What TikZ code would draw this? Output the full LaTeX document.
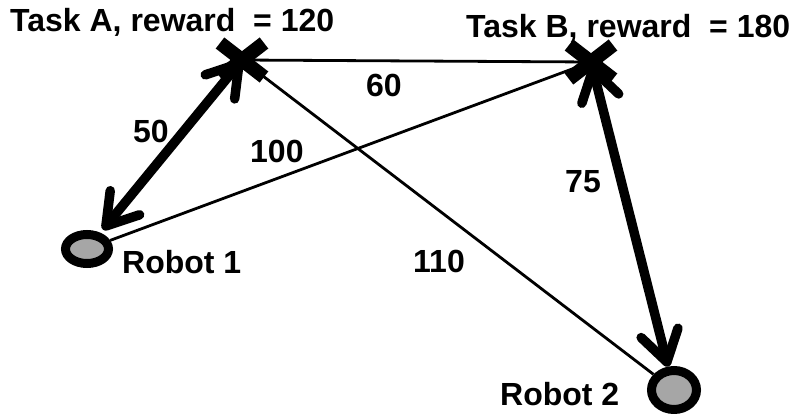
\documentclass[tikz,border=0pt]{standalone}
\usepackage{fontspec}
\setmainfont{Liberation Sans}
\usetikzlibrary{arrows.meta,shapes.geometric,calc}
\definecolor{robotgray}{RGB}{166,166,166}
\begin{document}
\begin{tikzpicture}[x=1pt,y=-1pt,
  lbl/.style={inner sep=0pt,anchor=base west,font=\fontsize{32}{38}\selectfont\bfseries},
  robot/.style={draw=black,fill=robotgray,ellipse,line width=9pt,inner sep=0pt},
  crossline/.style={line width=14pt},
  thinline/.style={line width=2.8pt},
  thickarrow/.style={line width=9.5pt,line cap=round,
    {Straight Barb[length=30pt,width=38pt,round]}-{Straight Barb[length=30pt,width=38pt,round]}}]
\useasboundingbox (0,0) rectangle (792,414);
% tasks
\coordinate (A) at (242,60);
\coordinate (B) at (591,62);
% robots
\node[robot,minimum width=43pt,minimum height=29pt] (R1) at (87,249) {};
\node[robot,minimum width=45pt,minimum height=39pt] (R2) at (674,390) {};
% thin connectors
\draw[thinline] (A) -- (B);
\draw[thinline] (R1) -- (B);
\draw[thinline] (A) -- (R2);
% thick arrows
\draw[thickarrow,shorten >=4pt] (A) -- (R1);
\draw[thickarrow,shorten <=3pt] (B) -- (R2);
% crosses
\draw[crossline] ($(A)+(-22,-17)$) -- ($(A)+(22,17)$);
\draw[crossline] ($(A)+(-22,17)$) -- ($(A)+(22,-17)$);
\draw[crossline] ($(B)+(-22,-17)$) -- ($(B)+(22,17)$);
\draw[crossline] ($(B)+(-22,17)$) -- ($(B)+(22,-17)$);
% labels
\node[lbl] (tA) at (10,32) {Task A, reward~~= 120};
\node[lbl] (tB) at (466,38) {Task B, reward~~= 180};
\node[lbl] (l50) at (133,143) {50};
\node[lbl] (l100) at (250,163) {100};
\node[lbl] (l60) at (366,97) {60};
\node[lbl] (l75) at (565,193) {75};
\node[lbl] (l110) at (413,272) {110};
\node[lbl] (r1) at (122,273) {Robot 1};
\node[lbl] (r2) at (500,405) {Robot 2};
\end{tikzpicture}
\end{document}
